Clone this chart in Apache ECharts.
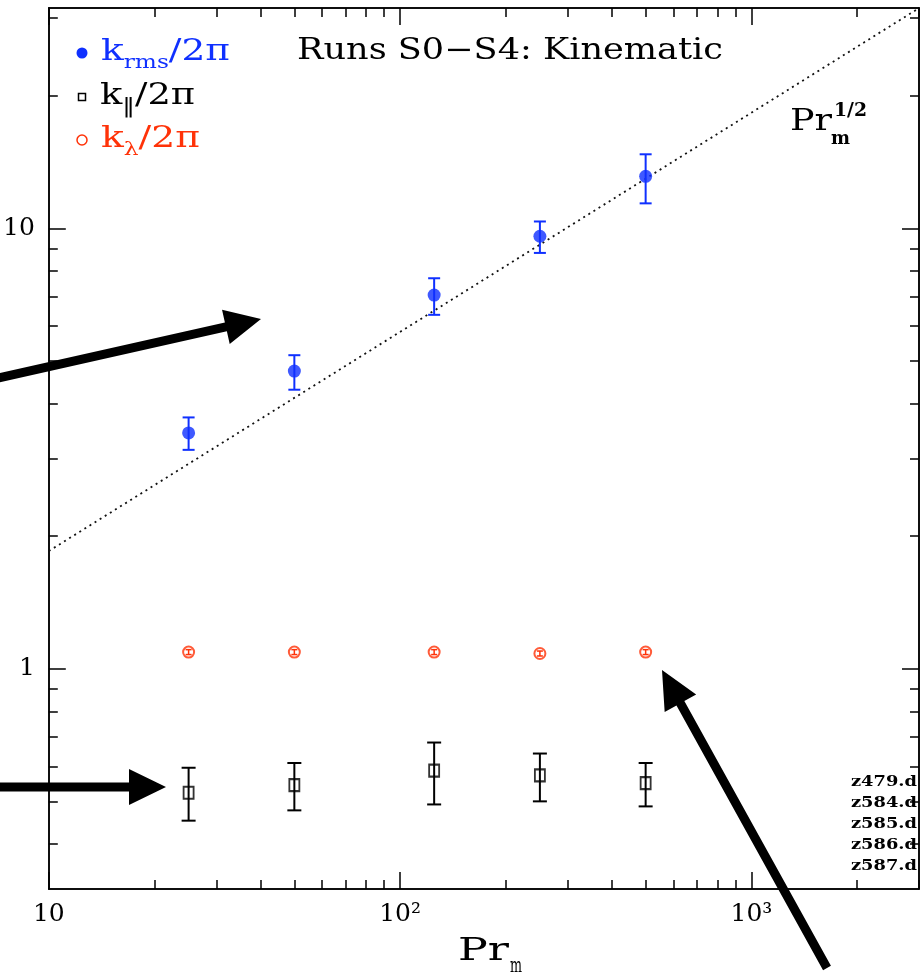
<!DOCTYPE html>
<html>
<head>
<meta charset="utf-8">
<script src="https://cdn.jsdelivr.net/npm/echarts@6/dist/echarts.min.js"></script>
<style>
  html, body { margin: 0; padding: 0; background: #fff; }
  #chart { width: 924px; height: 977px; }
</style>
</head>
<body>
<div id="chart"></div>
<script>
// Magnetic Prandtl number of runs S0-S4
const prm = [25, 50, 125, 250, 500];

// k_rms / 2pi with lower / upper error bounds
const kRms   = [3.43, 4.74, 7.05, 9.59, 13.12];
const kRmsLo = [3.14, 4.30, 6.36, 8.79, 11.39];
const kRmsHi = [3.72, 5.15, 7.70, 10.36, 14.72];

// k_parallel / 2pi
const kPar   = [0.523, 0.544, 0.587, 0.573, 0.550];
const kParLo = [0.452, 0.477, 0.492, 0.500, 0.487];
const kParHi = [0.596, 0.611, 0.680, 0.642, 0.611];

// k_lambda / 2pi
const kLam   = [1.091, 1.091, 1.091, 1.083, 1.091];
const kLamLo = [1.077, 1.077, 1.077, 1.069, 1.077];
const kLamHi = [1.105, 1.105, 1.105, 1.097, 1.105];

// Pr_m^(1/2) reference line (end points)
const refX = [10, 3000];
const refY = [1.85, 31.6];

// Axis ranges and tick values
const xRange = [10, 3000];
const yRange = [0.31623, 31.623];
const xMajor = [10, 100, 1000];
const xMinor = [20, 30, 40, 50, 60, 70, 80, 90, 200, 300, 400, 500, 600, 700, 800, 900, 2000, 3000];
const yMajor = [1, 10];
const yMinor = [0.4, 0.5, 0.6, 0.7, 0.8, 0.9, 2, 3, 4, 5, 6, 7, 8, 9, 20, 30];
const xLabels = { 10: '10', 100: '10²', 1000: '10³' };
const yLabels = { 1: '1', 10: '10' };

// Data files of the runs
const runFiles = ['z479.d', 'z584.d', 'z585.d', 'z586.d', 'z587.d'];

const BLUE = '#0f30ff';
const RED = '#ff3208';
const SERIF = '"DejaVu Serif"';
const lg = Math.log10;

const chart = echarts.init(document.getElementById('chart'), null, { renderer: 'canvas' });

// ---- axes (log10 space) ----
function makeAxis(dim, position, range, values, len, labels) {
  const fmt = dim === 'x' ? xLabels : yLabels;
  return {
    type: 'value',
    position: position,
    min: lg(range[0]),
    max: lg(range[1]),
    axisLine: { show: true, onZero: false, lineStyle: { color: '#000', width: 1.5 } },
    axisTick: {
      show: true, inside: true, length: len,
      customValues: values.map(lg),
      lineStyle: { color: '#000', width: 1.5 }
    },
    axisLabel: labels ? {
      show: true,
      customValues: values.map(lg),
      showMinLabel: true, showMaxLabel: true,
      formatter: v => fmt[Math.round(Math.pow(10, v) * 1000) / 1000] || '',
      margin: dim === 'x' ? 13 : 14,
      color: '#000',
      fontFamily: SERIF,
      fontSize: 25
    } : { show: false },
    splitLine: { show: false }
  };
}

const xAxes = [
  makeAxis('x', 'bottom', xRange, xMajor, 17, true),
  makeAxis('x', 'bottom', xRange, xMinor, 9, false),
  makeAxis('x', 'top', xRange, xMajor, 17, false),
  makeAxis('x', 'top', xRange, xMinor, 9, false)
];
const yAxes = [
  makeAxis('y', 'left', yRange, yMajor, 17, true),
  makeAxis('y', 'left', yRange, yMinor, 9, false),
  makeAxis('y', 'right', yRange, yMajor, 17, false),
  makeAxis('y', 'right', yRange, yMinor, 9, false)
];

// ---- error bars ----
function errorBars(name, lo, hi, color, capW, lw) {
  return {
    type: 'custom',
    name: name + ' error',
    xAxisIndex: 0, yAxisIndex: 0,
    silent: true,
    z: 3,
    encode: { x: 0, y: [1, 2] },
    data: prm.map((x, i) => [lg(x), lg(lo[i]), lg(hi[i])]),
    renderItem: function (params, api) {
      const x = api.value(0);
      const a = api.coord([x, api.value(1)]);
      const b = api.coord([x, api.value(2)]);
      const st = { stroke: color, lineWidth: lw };
      return {
        type: 'group',
        children: [
          { type: 'line', shape: { x1: a[0], y1: a[1], x2: b[0], y2: b[1] }, style: st },
          { type: 'line', shape: { x1: a[0] - capW / 2, y1: a[1], x2: a[0] + capW / 2, y2: a[1] }, style: st },
          { type: 'line', shape: { x1: b[0] - capW / 2, y1: b[1], x2: b[0] + capW / 2, y2: b[1] }, style: st }
        ]
      };
    }
  };
}

function points(name, vals, symbol, size, style) {
  return {
    type: 'scatter',
    name: name,
    xAxisIndex: 0, yAxisIndex: 0,
    z: 5,
    symbol: symbol,
    symbolSize: size,
    itemStyle: style,
    data: prm.map((x, i) => [lg(x), lg(vals[i])])
  };
}

// ---- text helpers ----
const measureCtx = document.createElement('canvas').getContext('2d');
function textW(t, font) { measureCtx.font = font; return measureCtx.measureText(t).width; }

// Places text fragments left to right, horizontally scaled to span targetW
function textRun(x, y, parts, targetW, family) {
  let cx = 0;
  const children = [];
  parts.forEach(p => {
    const font = (p.weight || 'normal') + ' ' + p.size + 'px ' + (family || SERIF);
    const w = textW(p.t, font);
    children.push({
      type: 'text', x: cx, y: p.dy || 0,
      style: { text: p.t, font: font, fill: p.color || '#000', textAlign: 'left', verticalAlign: 'middle' }
    });
    cx += w;
  });
  return { type: 'group', x: x, y: y, scaleX: targetW / cx, scaleY: 1, children: children, z: 60 };
}

function arrow(tail, tip, shaftW, headL, headW) {
  const dx = tip[0] - tail[0], dy = tip[1] - tail[1];
  const L = Math.hypot(dx, dy);
  const ux = dx / L, uy = dy / L, nx = -uy, ny = ux;
  const bx = tip[0] - ux * headL, by = tip[1] - uy * headL;
  const pts = [
    [tail[0] + nx * shaftW / 2, tail[1] + ny * shaftW / 2],
    [bx + nx * shaftW / 2, by + ny * shaftW / 2],
    [bx + nx * headW / 2, by + ny * headW / 2],
    [tip[0], tip[1]],
    [bx - nx * headW / 2, by - ny * headW / 2],
    [bx - nx * shaftW / 2, by - ny * shaftW / 2],
    [tail[0] - nx * shaftW / 2, tail[1] - ny * shaftW / 2]
  ];
  return { type: 'polygon', shape: { points: pts }, style: { fill: '#000' }, z: 100 };
}

const graphics = [
  // title
  textRun(297, 51, [{ t: 'Runs S0−S4: Kinematic', size: 29 }], 426),
  // legend
  { type: 'circle', shape: { cx: 82, cy: 53, r: 5.5 }, style: { fill: BLUE }, z: 60 },
  textRun(101, 52, [
    { t: 'k', size: 29, color: BLUE },
    { t: 'rms', size: 18, dy: 11, color: BLUE },
    { t: '/2π', size: 29, color: BLUE }
  ], 129),
  { type: 'rect', shape: { x: 78.5, y: 93.5, width: 7, height: 7 }, style: { fill: 'none', stroke: '#000', lineWidth: 1.5 }, z: 60 },
  textRun(100, 96, [
    { t: 'k', size: 29 },
    { t: '‖', size: 20, dy: 11 },
    { t: '/2π', size: 29 }
  ], 95),
  { type: 'circle', shape: { cx: 82, cy: 140, r: 5 }, style: { fill: 'none', stroke: RED, lineWidth: 1.5 }, z: 60 },
  textRun(101, 139, [
    { t: 'k', size: 29, color: RED },
    { t: 'λ', size: 18, dy: 11, color: RED },
    { t: '/2π', size: 29, color: RED }
  ], 99),
  // reference line label
  textRun(790, 122, [{ t: 'Pr', size: 30 }], 42),
  textRun(834, 111, [{ t: '1/2', size: 18, weight: 'bold' }], 33),
  textRun(831, 139, [{ t: 'm', size: 18, weight: 'bold' }], 19),
  // x axis title
  textRun(458, 952, [{ t: 'Pr', size: 31 }], 51),
  textRun(510, 967, [{ t: 'm', size: 21 }], 12),
  // annotation arrows
  arrow([-20, 382], [261, 319], 9, 36, 35),
  arrow([-20, 787], [166, 787], 9, 37, 36),
  arrow([827, 968], [662, 670], 9, 38, 36)
];
runFiles.forEach((f, i) => {
  graphics.push(textRun(851, 782 + i * 21, [{ t: f, size: 15, weight: 'bold' }], 66));
});

const option = {
  backgroundColor: '#fff',
  animation: false,
  grid: { left: 47, right: 5, top: 8, bottom: 88, containLabel: false },
  xAxis: xAxes,
  yAxis: yAxes,
  series: [
    {
      type: 'line',
      name: 'Pr_m^1/2',
      xAxisIndex: 0, yAxisIndex: 0,
      symbol: 'none',
      silent: true,
      z: 2,
      lineStyle: { color: '#111', width: 1.8, type: [2, 4] },
      data: refX.map((x, i) => [lg(x), lg(refY[i])])
    },
    errorBars('k_rms', kRmsLo, kRmsHi, BLUE, 12, 2),
    errorBars('k_par', kParLo, kParHi, '#000', 14, 2),
    errorBars('k_lambda', kLamLo, kLamHi, RED, 6, 1.5),
    points('k_rms', kRms, 'circle', 13, { color: BLUE }),
    points('k_par', kPar, 'rect', [10, 12], { color: 'rgba(0,0,0,0)', borderColor: '#000', borderWidth: 2 }),
    points('k_lambda', kLam, 'circle', 11, { color: 'rgba(0,0,0,0)', borderColor: RED, borderWidth: 2 })
  ],
  graphic: { elements: graphics }
};

chart.setOption(option);
</script>
</body>
</html>
